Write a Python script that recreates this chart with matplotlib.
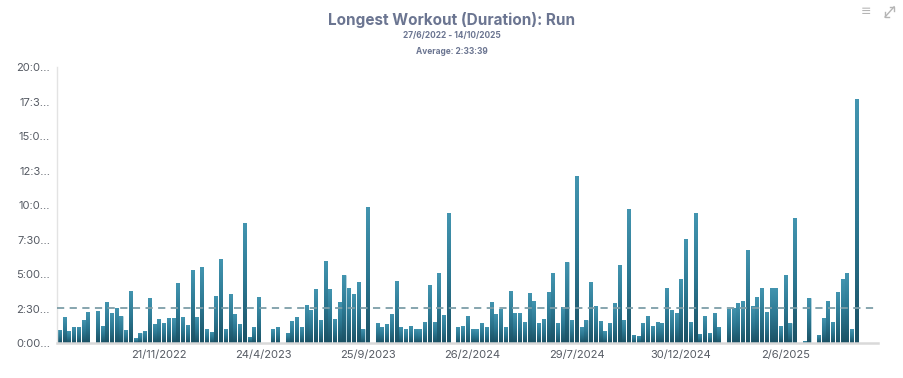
import numpy as np
import pandas as pd
import matplotlib
matplotlib.use('Agg')
import matplotlib.pyplot as plt
from matplotlib.colors import LinearSegmentedColormap

plt.rcParams['font.family'] = ['Inter', 'DejaVu Sans']

# weekly longest run, in hours (nan = no run that week)
week_start = pd.date_range('2022-06-27', periods=173, freq='7D')
hours = [
    0.97, 1.88, 0.85, 1.16, 1.16, 1.69, 2.27, np.nan, 2.32, 1.28,
    3.02, 2.20, 2.58, 2.00, 0.97, 3.82, 0.36, 0.72, 0.87, 3.29,
    1.38, 1.74, 1.45, 1.86, 1.81, 4.35, 1.88, 1.33, 5.29, 1.93,
    5.51, 1.01, 0.80, 3.43, 6.09, 1.04, 3.57, 2.13, 1.38, 8.72,
    0.48, 1.16, 3.36, np.nan, np.nan, 1.01, 1.21, np.nan, 0.77, 1.59,
    1.91, 1.16, 2.80, 2.44, 3.91, 1.71, 5.99, 3.91, 1.79, 3.00,
    4.93, 4.03, 3.57, 4.47, 1.04, 9.88, np.nan, 1.47, 1.21, 1.38,
    2.13, 4.49, 1.21, 1.01, 1.26, 1.06, 1.01, 1.55, 4.20, 1.55,
    5.07, 2.03, 9.44, np.nan, 1.18, 1.23, 2.00, 1.04, 1.01, 1.50,
    1.21, 3.02, 2.13, 2.46, 1.16, 3.82, 2.22, 2.17, 1.52, 3.67,
    3.04, 1.50, 1.79, 3.72, 5.07, 1.50, 2.66, 5.92, 1.71, 12.15,
    1.18, 1.67, 4.44, 2.73, 1.62, 0.85, 1.50, 2.90, 5.68, 1.67,
    9.76, 0.58, 0.51, 1.50, 2.00, 1.28, 1.57, 1.50, 4.01, 2.39,
    2.22, 4.64, 7.54, 1.55, 9.42, 0.68, 2.00, 0.77, 2.22, 1.16,
    np.nan, 2.46, 2.56, 2.90, 3.04, 6.74, 2.71, 3.33, 4.01, 2.29,
    4.01, 4.03, 1.23, 4.98, 1.47, 9.11, np.nan, 0.14, 3.31, np.nan,
    0.58, 1.86, 3.07, 1.57, 3.72, 4.69, 5.12, 1.01, 17.70, np.nan,
    np.nan, np.nan, np.nan,
]
average_hours = 2 + 33 / 60 + 39 / 3600
y_ticks = [0, 2.5, 5, 7.5, 10, 12.5, 15, 17.5, 20]
y_labels = ['0:00...', '2:30...', '5:00...', '7:30...', '10:0...',
            '12:3...', '15:0...', '17:3...', '20:0...']
label_every = 22
label_first = 21

title_col = '#6b7591'
text_col = '#555a63'

fig = plt.figure(figsize=(9.04, 3.78), dpi=100)
ax = fig.add_axes([0.063, 0.092, 0.908, 0.730])

x = np.arange(len(hours))
bars = ax.bar(x, hours, width=0.64, color='#2b7691', edgecolor='#cfe6ee',
              linewidth=0.4, zorder=2)

# vertical gradient inside each bar
cmap = LinearSegmentedColormap.from_list('bar', ['#1b5164', '#2c7892', '#4395b0'])
grad = np.linspace(0, 1, 64).reshape(-1, 1)
for b in bars:
    h = b.get_height()
    if not np.isfinite(h) or h <= 0:
        continue
    x0 = b.get_x()
    im = ax.imshow(grad, cmap=cmap, origin='lower', aspect='auto',
                   extent=[x0, x0 + b.get_width(), 0, h], zorder=2.5,
                   interpolation='bilinear')
    im.set_clip_path(b)

ax.axhline(average_hours, color='#7d9ea8', linestyle=(0, (4, 3)),
           linewidth=1.3, zorder=3)

ax.set_xlim(-0.5, len(hours) - 0.5)
ax.set_ylim(0, 20)

ticks = list(range(label_first, len(hours), label_every))
ax.set_xticks(ticks)
ax.set_xticklabels([f'{week_start[i].day}/{week_start[i].month}/{week_start[i].year}'
                    for i in ticks])
ax.set_yticks(y_ticks)
ax.set_yticklabels(y_labels)
ax.tick_params(axis='both', length=0, labelsize=8, colors=text_col)
ax.tick_params(axis='x', pad=5)
ax.tick_params(axis='y', pad=5)

for s in ['top', 'right']:
    ax.spines[s].set_visible(False)
ax.spines['left'].set_color('#e3e3e3')
ax.spines['left'].set_linewidth(1.0)
ax.spines['bottom'].set_color('#d9d9d9')
ax.spines['bottom'].set_linewidth(1.8)

fig.text(0.5, 0.948, 'Longest Workout (Duration): Run', ha='center', va='center',
         fontsize=11, fontweight='bold', color=title_col)
fig.text(0.5, 0.905, '27/6/2022 - 14/10/2025', ha='center', va='center',
         fontsize=6, fontweight='bold', color=title_col)
fig.text(0.5, 0.865, 'Average: 2:33:39', ha='center', va='center',
         fontsize=6, fontweight='bold', color=title_col)

# menu and fullscreen icons at the top right
fig.text(0.958, 0.985, '≡', ha='center', va='top', fontsize=9, color='#b5b5b5')
fig.add_artist(plt.Line2D([0.979, 0.989], [0.955, 0.982], color='#b5b5b5',
                          linewidth=1.0, transform=fig.transFigure))
fig.add_artist(plt.Line2D([0.979, 0.979, 0.983], [0.967, 0.955, 0.955],
                          color='#b5b5b5', linewidth=1.0, transform=fig.transFigure))
fig.add_artist(plt.Line2D([0.985, 0.989, 0.989], [0.982, 0.982, 0.970],
                          color='#b5b5b5', linewidth=1.0, transform=fig.transFigure))

fig.savefig('out.png', dpi=100)
